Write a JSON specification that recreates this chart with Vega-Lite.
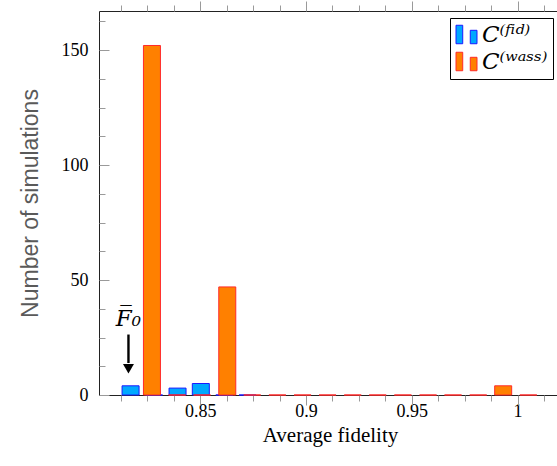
{
  "$schema": "https://vega.github.io/schema/vega-lite/v6.json",
  "autosize": "none",
  "width": 467,
  "height": 384,
  "padding": {"left": 99, "top": 11, "right": 0, "bottom": 71},
  "background": "white",
  "config": {
    "view": {"stroke": "#222", "strokeWidth": 1},
    "axis": {"grid": false, "domain": false, "labelFont": "Liberation Serif", "labelFontSize": 18, "labelColor": "#000", "tickColor": "#9a9a9a", "tickWidth": 1}
  },
  "datasets": {
    "hist": [
      {"series": "fid", "fidelity": 0.8171, "count": 4},
      {"series": "fid", "fidelity": 0.8282, "count": 0},
      {"series": "fid", "fidelity": 0.8393, "count": 3},
      {"series": "fid", "fidelity": 0.8503, "count": 5},
      {"series": "fid", "fidelity": 0.8614, "count": 0},
      {"series": "fid", "fidelity": 0.8724, "count": 0},
      {"series": "wass", "fidelity": 0.8272, "count": 152},
      {"series": "wass", "fidelity": 0.8391, "count": 0},
      {"series": "wass", "fidelity": 0.8509, "count": 0},
      {"series": "wass", "fidelity": 0.8628, "count": 47},
      {"series": "wass", "fidelity": 0.8746, "count": 0},
      {"series": "wass", "fidelity": 0.8865, "count": 0},
      {"series": "wass", "fidelity": 0.8984, "count": 0},
      {"series": "wass", "fidelity": 0.9102, "count": 0},
      {"series": "wass", "fidelity": 0.9221, "count": 0},
      {"series": "wass", "fidelity": 0.9339, "count": 0},
      {"series": "wass", "fidelity": 0.9458, "count": 0},
      {"series": "wass", "fidelity": 0.9577, "count": 0},
      {"series": "wass", "fidelity": 0.9695, "count": 0},
      {"series": "wass", "fidelity": 0.9814, "count": 0},
      {"series": "wass", "fidelity": 0.9932, "count": 4},
      {"series": "wass", "fidelity": 1.0051, "count": 0}
    ],
    "annot": [
      {"label": "F̅₀", "fidelity": 0.8161, "top": 26.3, "base": 13.9, "head": 11.4, "labelY": 33}
    ]
  },
  "layer": [
    {
      "data": {"name": "hist"},
      "transform": [{"filter": "datum.series == 'fid'"}],
      "mark": {"type": "bar", "size": 17, "strokeWidth": 1},
      "encoding": {
        "x": {"field": "fidelity", "type": "quantitative", "scale": {"domain": [0.80454, 1.02053], "nice": false, "zero": false},
          "axis": {"orient": "bottom", "values": [0.85, 0.9, 0.95, 1], "format": "~g", "ticks": false, "labelPadding": 7,
            "title": "Average fidelity", "titleFont": "Liberation Serif", "titleFontSize": 21, "titleFontWeight": "normal", "titleColor": "#000",
            "titleX": 231, "titleY": 40, "titleBaseline": "middle"}},
        "y": {"field": "count", "type": "quantitative", "scale": {"domain": [0, 167], "nice": false},
          "axis": {"orient": "left", "values": [0, 50, 100, 150], "ticks": false, "labelPadding": 11,
            "title": "Number of simulations", "titleFont": "Liberation Sans", "titleFontSize": 23, "titleFontWeight": "normal", "titleColor": "#5a5a5a",
            "titleX": -69, "titleY": 192, "titleBaseline": "middle", "titleAngle": -90, "titleAlign": "center"}},
        "fill": {"field": "series", "type": "nominal", "scale": {"domain": ["fid", "wass"], "range": ["#00a8ff", "#ff8000"]},
          "legend": {"title": null, "orient": "none", "legendX": 351, "legendY": 7, "strokeColor": "#000", "fillColor": "white", "padding": 5, "cornerRadius": 0,
            "symbolType": "M-1,-0.88H-0.36V0.88H-1Z M0.36,-0.4H1V0.88H0.36Z", "symbolSize": 441, "symbolStrokeWidth": 1,
            "labelFont": "DejaVu Serif", "labelFontSize": 23, "labelFontStyle": "italic", "labelColor": "#000", "labelOffset": 4, "rowPadding": 3,
            "labelExpr": "datum.label == 'fid' ? 'C⁽ᶠⁱᵈ⁾' : 'C⁽ʷᵃˢˢ⁾'"}},
        "stroke": {"field": "series", "type": "nominal", "scale": {"domain": ["fid", "wass"], "range": ["#1a1aff", "#ff2a2a"]},
          "legend": {"title": null, "orient": "none", "legendX": 351, "legendY": 7, "strokeColor": "#000", "fillColor": "white", "padding": 5, "cornerRadius": 0,
            "symbolType": "M-1,-0.88H-0.36V0.88H-1Z M0.36,-0.4H1V0.88H0.36Z", "symbolSize": 441, "symbolStrokeWidth": 1,
            "labelFont": "DejaVu Serif", "labelFontSize": 23, "labelFontStyle": "italic", "labelColor": "#000", "labelOffset": 4, "rowPadding": 3,
            "labelExpr": "datum.label == 'fid' ? 'C⁽ᶠⁱᵈ⁾' : 'C⁽ʷᵃˢˢ⁾'"}}
      }
    },
    {
      "data": {"name": "hist"},
      "transform": [{"filter": "datum.series == 'wass'"}],
      "mark": {"type": "bar", "size": 17, "strokeWidth": 1},
      "encoding": {
        "x": {"field": "fidelity", "type": "quantitative",
          "axis": {"orient": "bottom", "values": [0.85, 0.9, 0.95, 1], "labels": false, "tickSize": 10, "title": null}},
        "y": {"field": "count", "type": "quantitative",
          "axis": {"orient": "left", "values": [0, 50, 100, 150], "labels": false, "tickSize": 10, "offset": -10, "title": null}},
        "fill": {"field": "series", "type": "nominal"},
        "stroke": {"field": "series", "type": "nominal"}
      }
    },
    {
      "data": {"name": "annot"},
      "mark": {"type": "rule", "color": "#000", "strokeWidth": 2.4},
      "encoding": {
        "x": {"field": "fidelity", "type": "quantitative",
          "axis": {"orient": "bottom", "values": [0.8125, 0.825, 0.8375, 0.8625, 0.875, 0.8875, 0.9125, 0.925, 0.9375, 0.9625, 0.975, 0.9875, 1.0125], "labels": false, "tickSize": 6, "title": null}},
        "y": {"field": "top", "type": "quantitative",
          "axis": {"orient": "left", "values": [12.5, 25, 37.5, 62.5, 75, 87.5, 112.5, 125, 137.5, 162.5], "labels": false, "tickSize": 6, "offset": -6, "title": null}},
        "y2": {"field": "base"}
      }
    },
    {
      "data": {"name": "annot"},
      "mark": {"type": "point", "shape": "triangle-down", "filled": true, "color": "#000", "size": 120, "opacity": 1},
      "encoding": {
        "x": {"field": "fidelity", "type": "quantitative",
          "axis": {"orient": "top", "values": [0.85, 0.9, 0.95, 1], "labels": false, "tickSize": 10, "title": null}},
        "y": {"field": "head", "type": "quantitative", "axis": null}
      }
    },
    {
      "data": {"name": "annot"},
      "mark": {"type": "text", "font": "DejaVu Serif", "fontSize": 23, "fontStyle": "italic", "color": "#000", "align": "center", "baseline": "middle"},
      "encoding": {
        "x": {"field": "fidelity", "type": "quantitative",
          "axis": {"orient": "top", "values": [0.8125, 0.825, 0.8375, 0.8625, 0.875, 0.8875, 0.9125, 0.925, 0.9375, 0.9625, 0.975, 0.9875, 1.0125], "labels": false, "tickSize": 6, "title": null}},
        "y": {"field": "labelY", "type": "quantitative", "axis": null},
        "text": {"field": "label"}
      }
    }
  ],
  "resolve": {"axis": {"x": "independent", "y": "independent"}}
}
